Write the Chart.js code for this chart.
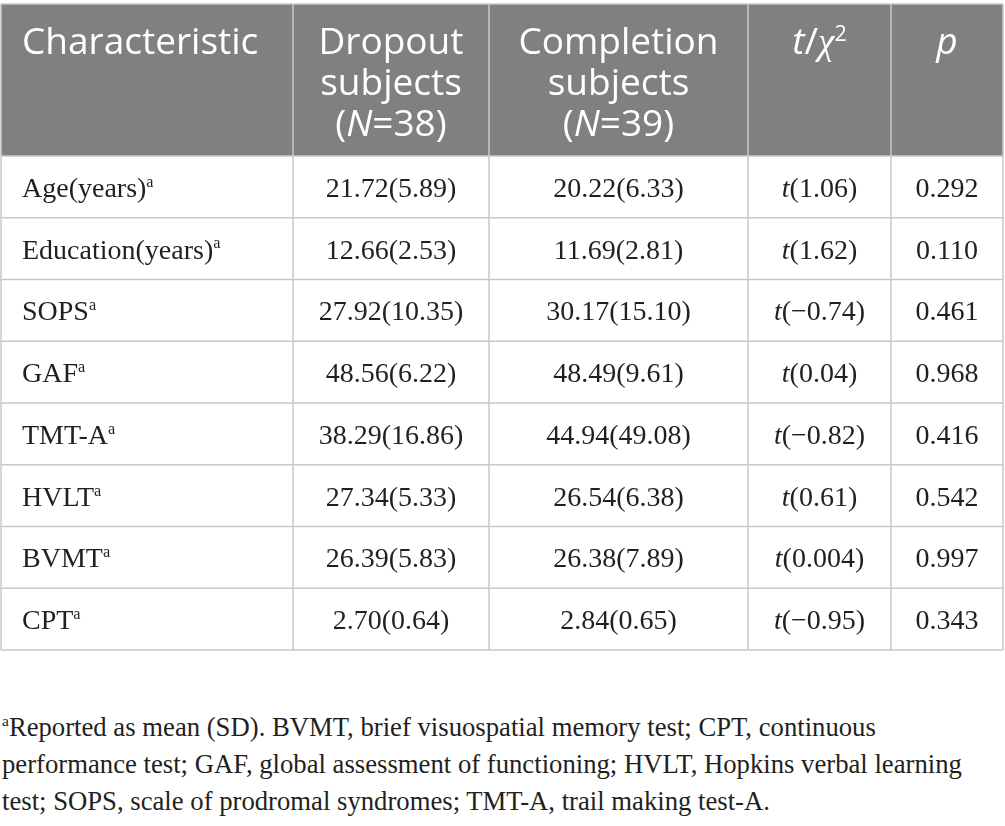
<!DOCTYPE html>
<html lang="en">
<head>
<meta charset="utf-8">
<title>Dropout vs completion subjects</title>
<script src="https://cdn.jsdelivr.net/npm/chart.js@4.4.1/dist/chart.umd.min.js"></script>
<style>
  html, body { margin: 0; padding: 0; background: #fff; }
  body { width: 1005px; height: 826px; position: relative; overflow: hidden; }
  #wrap { position: absolute; left: 0; top: 0; width: 1005px; height: 652px; }
  #note {
    position: absolute; left: 2px; top: 709px; width: 1000px;
    font-family: 'Liberation Serif', serif; font-size: 26.7px; line-height: 37px;
    color: #231f20; white-space: nowrap;
  }
  #note sup { font-size: 58%; vertical-align: 0.62em; line-height: 0; }
</style>
</head>
<body>
<div id="wrap"><canvas id="tabella"></canvas></div>
<div id="note"><sup>a</sup>Reported as mean (SD). BVMT, brief visuospatial memory test; CPT, continuous<br>performance test; GAF, global assessment of functioning; HVLT, Hopkins verbal learning<br>test; SOPS, scale of prodromal syndromes; TMT-A, trail making test-A.</div>
<script>
'use strict';

// ── Dati della tabella ─────────────────────────────────────────
const characteristics = ['Age(years)', 'Education(years)', 'SOPS', 'GAF', 'TMT-A', 'HVLT', 'BVMT', 'CPT'];
const groupNames = ['Dropout', 'Completion'];
const groupN = [38, 39];

const dropoutMean = [21.72, 12.66, 27.92, 48.56, 38.29, 27.34, 26.39, 2.70];
const dropoutSD = [5.89, 2.53, 10.35, 6.22, 16.86, 5.33, 5.83, 0.64];
const completionMean = [20.22, 11.69, 30.17, 48.49, 44.94, 26.54, 26.38, 2.84];
const completionSD = [6.33, 2.81, 15.10, 9.61, 49.08, 6.38, 7.89, 0.65];
const tValues = [1.06, 1.62, -0.74, 0.04, -0.82, 0.61, 0.004, -0.95];
const pValues = [0.292, 0.110, 0.461, 0.968, 0.416, 0.542, 0.997, 0.343];

// ── Layout (unità delle scale) ─────────────────────────────────
const colEdges = [0, 292, 488, 747, 890, 1002];
const HEADER_SPAN = 2.46;        // altezza intestazione in righe
const HEADER_FILL = '#808080';
const LINE_COLOR = '#c8c8c8';
const TEXT_COLOR = '#231f20';
const SANS = "'Open Sans', sans-serif";
const SERIF = "'Liberation Serif', serif";

function fmtSigned(v) {
  return (v < 0 ? '\u2212' : '') + String(Math.abs(v));
}

// righe di testo ricco: [{t, i (corsivo), s (apice), f (famiglia)}]
function headerCells() {
  return [
    [[{ t: 'Characteristic' }]],
    [[{ t: groupNames[0] }], [{ t: 'subjects' }], [{ t: '(' }, { t: 'N', i: 1 }, { t: '=' + groupN[0] + ')' }]],
    [[{ t: groupNames[1] }], [{ t: 'subjects' }], [{ t: '(' }, { t: 'N', i: 1 }, { t: '=' + groupN[1] + ')' }]],
    [[{ t: 't', i: 1 }, { t: '/' }, { t: '\u03c7', i: 1, f: SERIF }, { t: '2', s: 1 }]],
    [[{ t: 'p', i: 1 }]]
  ];
}

function bodyCells(r) {
  return [
    [{ t: characteristics[r] }, { t: 'a', s: 1 }],
    [{ t: dropoutMean[r].toFixed(2) + '(' + dropoutSD[r].toFixed(2) + ')' }],
    [{ t: completionMean[r].toFixed(2) + '(' + completionSD[r].toFixed(2) + ')' }],
    [{ t: 't', i: 1 }, { t: '(' + fmtSigned(tValues[r]) + ')' }],
    [{ t: pValues[r].toFixed(3) }]
  ];
}

function runFont(run, size, family) {
  const sz = run.s ? size * 0.58 : size;
  return (run.i ? 'italic ' : '') + sz + 'px ' + (run.f || family);
}

function drawRuns(ctx, runs, x, y, align, size, family) {
  let w = 0;
  runs.forEach(run => { ctx.font = runFont(run, size, family); run.w = ctx.measureText(run.t).width; w += run.w; });
  let cx = align === 'center' ? x - w / 2 : x;
  runs.forEach(run => {
    ctx.font = runFont(run, size, family);
    ctx.fillText(run.t, cx, run.s ? y - size * 0.36 : y);
    cx += run.w;
  });
}

const tablePlugin = {
  id: 'tabella',
  beforeDraw(chart) {
    const { ctx, scales: { x, y } } = chart;
    const x0 = x.getPixelForValue(colEdges[0]);
    const x1 = x.getPixelForValue(colEdges[colEdges.length - 1]);
    const y0 = y.getPixelForValue(0);
    const y1 = y.getPixelForValue(HEADER_SPAN);
    ctx.save();
    ctx.fillStyle = HEADER_FILL;
    ctx.fillRect(x0, y0, x1 - x0, y1 - y0);
    ctx.restore();
  },
  afterDraw(chart) {
    const { ctx, scales: { x, y } } = chart;
    const nRows = characteristics.length;
    const x0 = x.getPixelForValue(colEdges[0]);
    const x1 = x.getPixelForValue(colEdges[colEdges.length - 1]);
    const yTop = y.getPixelForValue(0);
    const yBot = y.getPixelForValue(HEADER_SPAN + nRows);

    ctx.save();
    // bordi
    ctx.strokeStyle = LINE_COLOR;
    ctx.lineWidth = 1.5;
    ctx.beginPath();
    colEdges.forEach(c => {
      const px = x.getPixelForValue(c);
      ctx.moveTo(px, yTop); ctx.lineTo(px, yBot);
    });
    const rowEdges = [0];
    for (let r = 0; r <= nRows; r++) rowEdges.push(HEADER_SPAN + r);
    rowEdges.forEach(v => {
      const py = y.getPixelForValue(v);
      ctx.moveTo(x0, py); ctx.lineTo(x1, py);
    });
    ctx.stroke();

    // intestazione
    ctx.textBaseline = 'alphabetic';
    ctx.fillStyle = '#ffffff';
    headerCells().forEach((lines, c) => {
      const left = x.getPixelForValue(colEdges[c]);
      const right = x.getPixelForValue(colEdges[c + 1]);
      lines.forEach((runs, k) => {
        const by = yTop + 50 + k * 41;
        if (c === 0) drawRuns(ctx, runs, left + 21, by, 'left', 37, SANS);
        else drawRuns(ctx, runs, (left + right) / 2, by, 'center', 37, SANS);
      });
    });

    // corpo
    ctx.fillStyle = TEXT_COLOR;
    for (let r = 0; r < nRows; r++) {
      const by = y.getPixelForValue(HEADER_SPAN + r + 0.5) + 10;
      bodyCells(r).forEach((runs, c) => {
        const left = x.getPixelForValue(colEdges[c]);
        const right = x.getPixelForValue(colEdges[c + 1]);
        if (c === 0) drawRuns(ctx, runs, left + 21, by, 'left', 28, SERIF);
        else drawRuns(ctx, runs, (left + right) / 2, by, 'center', 28, SERIF);
      });
    }
    ctx.restore();
  }
};

new Chart(document.getElementById('tabella'), {
  type: 'scatter',
  data: { datasets: [] },
  options: {
    responsive: true,
    maintainAspectRatio: false,
    animation: false,
    events: [],
    layout: { padding: { top: 4, left: 1, right: 2, bottom: 2 } },
    plugins: { legend: { display: false }, tooltip: { enabled: false } },
    scales: {
      x: { type: 'linear', display: false, min: 0, max: colEdges[colEdges.length - 1] },
      y: { type: 'linear', display: false, reverse: true, min: 0, max: HEADER_SPAN + characteristics.length }
    }
  },
  plugins: [tablePlugin]
});
</script>
</body>
</html>
